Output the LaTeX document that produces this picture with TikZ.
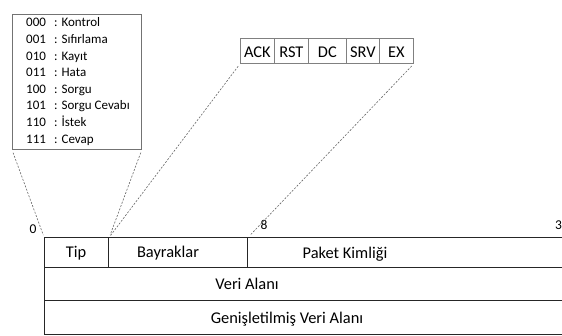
\documentclass[tikz,border=0pt]{standalone}
\usepackage{fontspec}
\setmainfont{Carlito}
\usepackage{tikz}

\begin{document}
\begin{tikzpicture}[x=1pt,y=-1pt,
    field/.style={draw=black!85,line width=1.4pt,inner sep=0pt,anchor=north west},
    flag/.style={draw=black!50,line width=0.8pt,minimum height=25pt,inner sep=0pt,
      anchor=north west},
    guide/.style={draw=black!60,dash pattern=on 2pt off 1.5pt,line width=0.6pt,
      shorten <=3pt,shorten >=2pt},
    txt/.style={inner sep=0pt,anchor=base,font=\fontsize{16.4}{18}\selectfont},
    small/.style={inner sep=0pt,anchor=base,font=\fontsize{13.5}{15}\selectfont},
    code/.style={inner sep=0pt,anchor=base west,font=\fontsize{13}{14}\selectfont}]
\useasboundingbox (0,0) rectangle (562,336);
% type codes
\node[draw=black!55,line width=0.8pt,minimum width=129pt,minimum height=135pt,
  inner sep=0pt,anchor=north west] (legend) at (12,14) {};
\foreach \c/\n [count=\i] in {000/Kontrol,001/Sıfırlama,010/Kayıt,011/Hata,
    100/Sorgu,101/Sorgu Cevabı,110/İstek,111/Cevap} {
  \node[code] (c\i) at (26,{27+16.6*(\i-1)}) {\c};
  \node[code] (n\i) at (54,{27+16.6*(\i-1)}) {: \n};
}
% flag bits
\node[flag,minimum width=34pt] (ack) at (240,38) {};
\node[flag,minimum width=34pt] (rst) at (274,38) {};
\node[flag,minimum width=38pt] (dc) at (308,38) {};
\node[flag,minimum width=33pt] (srv) at (346,38) {};
\node[flag,minimum width=34pt] (ex) at (379,38) {};
\foreach \f/\t in {ack/ACK,rst/RST,dc/DC,srv/SRV,ex/EX}
  \node[txt] (l\f) at ([yshift=-7pt]\f.center) {\t};
% header
\node[field,minimum width=64pt,minimum height=30pt] (tip) at (44,237) {};
\node[field,minimum width=139pt,minimum height=30pt] (bay) at (108,237) {};
\node[field,minimum width=353pt,minimum height=30pt] (pkt) at (247,237) {};
\node[field,minimum width=556pt,minimum height=33pt] (veri) at (44,267) {};
\node[field,minimum width=556pt,minimum height=34pt] (gen) at (44,300) {};
\node[txt] (t1) at (76,258) {Tip};
\node[txt] (t2) at (168,258) {Bayraklar};
\node[txt] (t3) at (345,259) {Paket Kimliği};
\node[txt] (t4) at (247,290) {Veri Alanı};
\node[txt] (t5) at (287,324) {Genişletilmiş Veri Alanı};
\node[small] (b0) at (33,234) {0};
\node[small] (b8) at (264,230) {8};
\node[small,anchor=base west] (b32) at (555,230) {32};
% guides
\draw[guide] (legend.south west) -- (tip.north west);
\draw[guide] (legend.south east) -- (tip.north east);
\draw[guide] (ack.south west) -- (tip.north east);
\draw[guide] (ex.south east) -- (bay.north east);
\end{tikzpicture}
\end{document}
